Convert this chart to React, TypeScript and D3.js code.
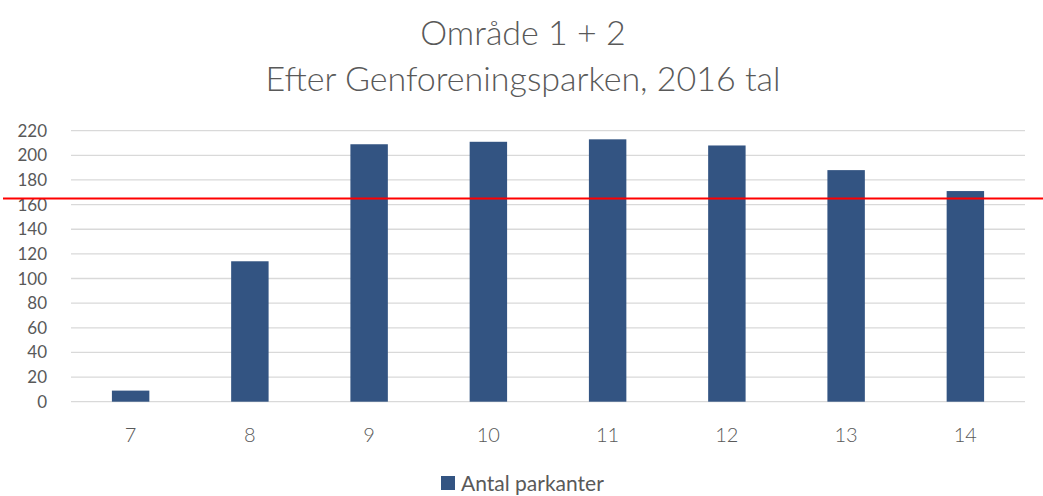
import React, { useEffect, useRef } from 'react';
import * as d3 from 'd3';

const categories = ['7', '8', '9', '10', '11', '12', '13', '14'];
const parkanter = [9, 114, 209, 211, 213, 208, 188, 171];
const yTicks = [0, 20, 40, 60, 80, 100, 120, 140, 160, 180, 200, 220];
const refValue = 165;
const titleLines = ['Område 1 + 2', 'Efter Genforeningsparken, 2016 tal'];
const seriesName = 'Antal parkanter';

const W = 1043;
const H = 496;
const FONT = 'Lato, "Open Sans", sans-serif';
const TEXT = '#595959';
const BAR = '#335482';

const App = () => {
  const svgRef = useRef<SVGSVGElement>(null);

  useEffect(() => {
    const svg = d3.select(svgRef.current);
    svg.selectAll('*').remove();

    const left = 71, right = 1025, top = 130.7, bottom = 401.7;

    const x = d3.scaleBand().domain(categories).range([left, right]).paddingInner(0.686).paddingOuter(0.343);
    const y = d3.scaleLinear().domain([0, 220]).range([bottom, top]);

    // Title
    svg.append('g').selectAll('text')
      .data(titleLines)
      .enter()
      .append('text')
      .attr('x', 523)
      .attr('y', (d, i) => 45 + i * 46)
      .attr('text-anchor', 'middle')
      .attr('fill', TEXT)
      .style('font-family', FONT)
      .style('font-weight', 300)
      .style('font-size', '34px')
      .text(d => d);

    // Grid
    svg.append('g').selectAll('line')
      .data(yTicks)
      .enter()
      .append('line')
      .attr('x1', left)
      .attr('x2', right)
      .attr('y1', d => y(d))
      .attr('y2', d => y(d))
      .attr('stroke', '#d9d9d9')
      .attr('stroke-width', 1.3);

    // Y labels
    svg.append('g').selectAll('text')
      .data(yTicks)
      .enter()
      .append('text')
      .attr('x', 47)
      .attr('y', d => y(d) + 6)
      .attr('text-anchor', 'end')
      .attr('fill', TEXT)
      .style('font-family', FONT)
      .style('font-size', '17px')
      .text(d => d);

    // Bars
    svg.append('g').selectAll('rect')
      .data(parkanter)
      .enter()
      .append('rect')
      .attr('x', (d, i) => x(categories[i]) as number)
      .attr('y', d => y(d))
      .attr('width', x.bandwidth())
      .attr('height', d => y(0) - y(d))
      .attr('fill', BAR);

    // X labels
    svg.append('g').selectAll('text')
      .data(categories)
      .enter()
      .append('text')
      .attr('x', d => (x(d) as number) + x.bandwidth() / 2)
      .attr('y', 442)
      .attr('text-anchor', 'middle')
      .attr('fill', TEXT)
      .style('font-family', FONT)
      .style('font-weight', 300)
      .style('font-size', '20px')
      .text(d => d);

    // Reference line
    svg.append('line')
      .attr('x1', 3)
      .attr('x2', W)
      .attr('y1', y(refValue))
      .attr('y2', y(refValue))
      .attr('stroke', '#ff0000')
      .attr('stroke-width', 2);

    // Legend
    const legend = svg.append('g');
    legend.append('rect')
      .attr('x', 441).attr('y', 476)
      .attr('width', 14).attr('height', 14)
      .attr('fill', BAR);
    legend.append('text')
      .attr('x', 461).attr('y', 491)
      .attr('fill', TEXT)
      .style('font-family', FONT)
      .style('font-size', '21px')
      .text(seriesName);
  }, []);

  return (
    <svg ref={svgRef} width={W} height={H}
      style={{ position: 'absolute', left: 0, top: 0, background: '#fff' }} />
  );
};

export default App;
